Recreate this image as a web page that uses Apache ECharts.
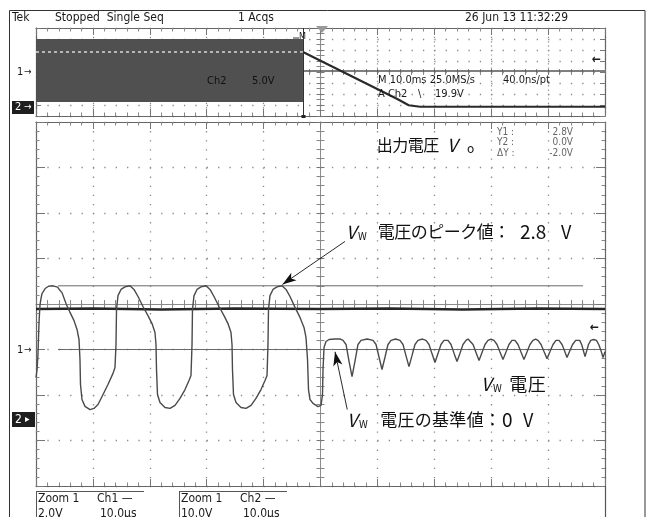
<!DOCTYPE html>
<html>
<head>
<meta charset="utf-8">
<script src="https://cdn.jsdelivr.net/npm/echarts@6/dist/echarts.min.js"></script>
<style>
  html, body { margin: 0; padding: 0; background: #fff; }
  #scope { width: 651px; height: 517px; }
</style>
</head>
<body>
<div id="scope"></div>
<script>
// ---- Zoom window (10 us/div): Vw on Ch1, [time us, volts] ----
const vwTrace = [
  [0.00,-1.23],[0.18,-0.90],[0.35,-0.20],[0.53,1.20],[0.70,1.95],[0.88,2.25],[1.05,2.45],[1.60,2.68],[2.20,2.78],[3.00,2.80],[3.80,2.74],[4.20,2.60],
  [4.57,2.50],[5.27,2.02],[5.98,1.63],[6.68,1.27],[7.21,0.88],[7.56,0.44],[7.73,-0.44],[7.82,-1.54],[8.08,-2.20],[8.61,-2.50],[9.49,-2.64],[10.19,-2.59],
  [10.90,-2.42],[11.78,-1.98],[12.65,-1.54],[13.53,-1.05],[13.88,-0.79],
  [14.06,0.22],[14.15,1.76],[14.41,2.37],[14.94,2.64],[15.64,2.75],[16.52,2.80],[17.22,2.64],[17.93,2.33],[18.80,1.89],[19.68,1.49],[20.39,1.14],[20.91,0.75],
  [21.09,0.22],[21.18,-0.88],[21.35,-1.98],[21.79,-2.33],[22.67,-2.55],[23.55,-2.59],[24.43,-2.46],[25.31,-2.15],[26.19,-1.76],[26.89,-1.36],[27.24,-1.14],
  [27.42,0.22],[27.50,1.76],[27.77,2.37],[28.30,2.64],[29.00,2.75],[29.88,2.80],[30.58,2.64],[31.28,2.33],[32.16,1.89],[33.04,1.49],[33.74,1.14],[34.27,0.75],
  [34.45,0.22],[34.53,-0.88],[34.71,-1.98],[35.15,-2.33],[36.03,-2.55],[36.91,-2.59],[37.79,-2.46],[38.66,-2.15],[39.54,-1.76],[40.25,-1.36],[40.60,-1.14],
  [40.77,0.22],[40.86,1.76],[41.12,2.37],[41.65,2.64],[42.36,2.75],[43.23,2.80],[43.94,2.64],[44.64,2.33],[45.52,1.85],[46.40,1.41],[47.10,0.97],[47.45,0.53],
  [47.72,-0.44],[47.89,-1.76],[48.15,-2.20],[48.68,-2.37],[49.56,-2.51],[50.09,-2.46],[50.35,-1.98],[50.44,-0.88],[50.62,0.09],[50.97,0.35],[51.49,0.44],
  // decaying ripple after switching stops
  [52.50,0.46],[53.50,0.46],[53.96,0.40],[54.49,0.22],[55.00,-0.50],[55.54,-1.19],[56.07,-0.50],[56.59,0.22],[57.12,0.40],
  [58.20,0.46],[59.23,0.40],[59.76,0.22],[60.28,-0.33],[60.81,-0.88],[61.34,-0.33],[61.86,0.22],[62.39,0.40],
  [63.20,0.46],[63.97,0.40],[64.50,0.22],[65.02,-0.27],[65.55,-0.75],[66.08,-0.27],[66.60,0.22],[67.13,0.40],
  [67.90,0.46],[68.54,0.40],[69.07,0.22],[69.59,-0.18],[70.12,-0.57],[70.65,-0.18],[71.17,0.22],[71.70,0.40],
  [72.05,0.46],[72.41,0.40],[72.94,0.22],[73.46,-0.16],[73.99,-0.53],[74.52,-0.16],[75.04,0.22],[75.57,0.40],
  [75.93,0.46],[76.28,0.40],[76.81,0.22],[77.33,-0.13],[77.86,-0.48],[78.39,-0.13],[78.91,0.22],[79.44,0.40],
  [79.96,0.46],[80.49,0.40],[81.02,0.22],[81.54,-0.11],[82.07,-0.44],[82.60,-0.11],[83.12,0.22],[83.65,0.40],
  [83.92,0.46],[84.18,0.40],[84.71,0.22],[85.23,-0.11],[85.76,-0.44],[86.29,-0.11],[86.81,0.22],[87.34,0.40],
  [87.80,0.46],[88.23,0.40],[88.76,0.22],[89.28,-0.09],[89.81,-0.40],[90.34,-0.09],[90.86,0.22],[91.39,0.40],
  [91.66,0.46],[91.92,0.40],[92.45,0.22],[92.90,-0.07],[93.32,-0.35],[93.80,-0.07],[94.30,0.22],[94.85,0.40],
  [95.20,0.44],[95.55,0.40],[95.90,0.22],[96.20,-0.05],[96.49,-0.31],[96.80,-0.05],[97.10,0.22],[97.50,0.40],
  [98.00,0.44],[98.50,0.40],[98.90,0.22],[99.30,-0.05],[99.65,-0.35],[100.00,-0.10]
];
// Ch2 (output voltage Vo) in the zoom window, [time us, volts]
const voTrace = [[0,24.9],[10,25.0],[22,24.8],[35,25.0],[50,24.9],[62,25.0],[75,24.8],[88,25.0],[100,24.9]];
// Horizontal cursors (Ch1 volts) and the span they are drawn over (us)
const cursorLevels = [2.8, 0.0];
const cursorSpans = [[3.87, 96.13], [3.87, 100]];
const cursorReadout = ['Y1 :', 'Y2 :', '\u0394Y :'];
const cursorValues = ['2.8V', '0.0V', '-2.0V'];

// ---- Record window (10 ms/div), [time ms, volts] ----
const burstSpan = [0, 46.92];          // switching burst, drawn as filled envelope
const burstRange = [-2.73, 3.0];
const vwRecordAfter = [[46.92, 0.09], [100, 0.09]];
const voRecordDuring = [[0, 25], [46.92, 25]];
const voRecordAfter = [[46.92, 25], [63.5, 3.6], [65.5, 0.8], [67.5, 0.1], [100, 0.1]];

// ---- Scope settings ----
const zoomTimebaseUs = 10, recordTimebaseMs = 10;
const ch1VoltsPerDiv = 2, ch2VoltsPerDiv = 10;          // zoom window
const ch1RecordVPerDiv = 1, ch2RecordVPerDiv = 5;       // record window
const ch1OffsetDiv = -1, ch2OffsetDiv = -2.6;           // zoom window ground markers from centre
const ch2RecordOffsetDiv = -3.18;                        // record window Ch2 ground from centre
const headerTexts = ['Tek', 'Stopped  Single Seq', '1 Acqs', '26 Jun 13 11:32:29'];
const recordTexts = ['Ch2', '5.0V', 'M 10.0ms 25.0MS/s', '40.0ns/pt', 'A Ch2', '\\', '19.9V'];
const footerTexts = [['Zoom 1', 'Ch1 \u2014', '2.0V', '10.0\u03bcs'], ['Zoom 1', 'Ch2 \u2014', '10.0V', '10.0\u03bcs']];

const SCOPE_FONT = "'Liberation Sans Narrow','DejaVu Sans Condensed','DejaVu Sans',sans-serif";
const JP_FONT = "'Noto Sans CJK JP','Noto Sans',sans-serif";
const GRAT = '#8a8a8a';

const chart = echarts.init(document.getElementById('scope'), null, { renderer: 'canvas' });

const MAIN = { left: 36, top: 122, width: 569, height: 364 };
const REC = { left: 36, top: 28, width: 569, height: 88 };

// graticule helpers (division units)
function gratX(grid, pos, opts) {
  return Object.assign({
    type: 'value', gridIndex: grid, position: pos, min: 0, max: 10, interval: 1,
    axisLine: { show: true, onZero: false, lineStyle: { color: '#666', width: 1.2 } },
    axisTick: { show: true, inside: true, length: 7, lineStyle: { color: '#777' } },
    minorTick: { show: true, splitNumber: 5, length: 3.5, lineStyle: { color: '#888' } },
    axisLabel: { show: false }, splitLine: { show: false }
  }, opts || {});
}
function gratY(grid, pos, divs, opts) {
  return Object.assign({
    type: 'value', gridIndex: grid, position: pos, min: 0, max: divs, interval: 1,
    axisLine: { show: true, onZero: false, lineStyle: { color: '#666', width: 1.2 } },
    axisTick: { show: true, inside: true, length: 9, lineStyle: { color: '#777' } },
    minorTick: { show: true, splitNumber: 5, length: 3.5, lineStyle: { color: '#888' } },
    axisLabel: { show: false }, splitLine: { show: false }
  }, opts || {});
}
const hidden = (grid, min, max) => ({ type: 'value', gridIndex: grid, min, max, show: false });
function centreTicks(inside, len, withLine) {
  return {
    axisTick: { show: true, inside, length: len, lineStyle: { color: '#777' } },
    minorTick: { show: true, splitNumber: 5, length: len, lineStyle: { color: '#888' } },
    axisLine: { show: withLine, onZero: false, lineStyle: { color: '#8c8c8c', width: 1 } }
  };
}

const mainDivPx = MAIN.width / 10 / 5, mainDivPy = MAIN.height / 8 / 5;
const recDivPx = REC.width / 10 / 5, recDivPy = REC.height / 8 / 5;

const xAxis = [
  hidden(1, 0, 10 * zoomTimebaseUs),                                            // 0 zoom time
  gratX(1, 'bottom', { splitLine: { show: true, lineStyle: { color: GRAT, width: 1.3, type: [1.3, mainDivPy - 1.3] } } }), // 1
  gratX(1, 'top'),                                                               // 2
  gratX(1, 'bottom', Object.assign({ offset: -MAIN.height / 2 }, centreTicks(true, 4, true))),   // 3
  gratX(1, 'bottom', Object.assign({ offset: -MAIN.height / 2 }, centreTicks(false, 4, false))), // 4
  hidden(0, 0, 10 * recordTimebaseMs),                                           // 5 record time
  gratX(0, 'bottom', { splitLine: { show: true, lineStyle: { color: GRAT, width: 1.2, type: [1.2, 2 * recDivPy - 1.2] } } }), // 6
  gratX(0, 'top'),                                                               // 7
  gratX(0, 'bottom', Object.assign({ offset: -REC.height / 2 }, centreTicks(true, 3, false))),   // 8
  gratX(0, 'bottom', Object.assign({ offset: -REC.height / 2 }, centreTicks(false, 3, false)))   // 9
];

const ch1Min = (-4 - ch1OffsetDiv) * ch1VoltsPerDiv, ch1Max = (4 - ch1OffsetDiv) * ch1VoltsPerDiv;
const ch2Min = (-4 - ch2OffsetDiv) * ch2VoltsPerDiv, ch2Max = (4 - ch2OffsetDiv) * ch2VoltsPerDiv;
const ch2RecMin = (-4 - ch2RecordOffsetDiv) * ch2RecordVPerDiv, ch2RecMax = (4 - ch2RecordOffsetDiv) * ch2RecordVPerDiv;

const yAxis = [
  hidden(1, ch1Min, ch1Max),                                                     // 0 Ch1 volts
  hidden(1, ch2Min, ch2Max),                                                     // 1 Ch2 volts
  gratY(1, 'left', 8, { splitLine: { show: true, lineStyle: { color: GRAT, width: 1.3, type: [1.3, mainDivPx - 1.3] } } }), // 2
  gratY(1, 'right', 8),                                                          // 3
  gratY(1, 'left', 8, Object.assign({ offset: -MAIN.width / 2 }, centreTicks(true, 4, true))),   // 4
  gratY(1, 'left', 8, Object.assign({ offset: -MAIN.width / 2 }, centreTicks(false, 4, false))), // 5
  hidden(0, -4 * ch1RecordVPerDiv, 4 * ch1RecordVPerDiv),                        // 6 Ch1 record
  hidden(0, ch2RecMin, ch2RecMax),                                               // 7 Ch2 record
  gratY(0, 'left', 8, {
    axisTick: { show: true, inside: true, length: 5, lineStyle: { color: '#777' } },
    minorTick: { show: false },
    splitLine: { show: true, lineStyle: { color: GRAT, width: 1.3, type: [1.3, recDivPx - 1.3] } }
  }),                                                                            // 8
  gratY(0, 'right', 8, { axisTick: { show: true, inside: true, length: 5, lineStyle: { color: '#777' } }, minorTick: { show: false } }), // 9
  gratY(0, 'left', 8, Object.assign({ offset: -REC.width / 2 }, centreTicks(true, 4, true), { minorTick: { show: true, splitNumber: 2, length: 4, lineStyle: { color: '#888' } } })),  // 10
  gratY(0, 'left', 8, Object.assign({ offset: -REC.width / 2 }, centreTicks(false, 4, false), { minorTick: { show: true, splitNumber: 2, length: 4, lineStyle: { color: '#888' } } })) // 11
];

const lineBase = { type: 'line', showSymbol: false, symbol: 'none', silent: true, animation: false };

const series = [
  // cursors
  ...cursorLevels.map((lv, i) => Object.assign({}, lineBase, {
    xAxisIndex: 0, yAxisIndex: 0, z: 3,
    data: [[cursorSpans[i][0], lv], [cursorSpans[i][1], lv]],
    lineStyle: { color: '#6a6a6a', width: 1 }
  })),
  // Ch2 output voltage
  Object.assign({}, lineBase, {
    xAxisIndex: 0, yAxisIndex: 1, z: 4, data: voTrace,
    lineStyle: { color: '#262626', width: 2.4 }
  }),
  // Ch1 Vw waveform with annotation arrows
  Object.assign({}, lineBase, {
    xAxisIndex: 0, yAxisIndex: 0, z: 5, data: vwTrace,
    lineStyle: { color: '#4a4a4a', width: 1.4 },
    markLine: {
      silent: true, animation: false, symbol: ['none', 'arrow'], symbolSize: [7, 14],
      label: { show: false },
      lineStyle: { color: '#111', width: 0.9, type: 'solid' },
      data: [
        [{ coord: [54.3, 4.75] }, { coord: [43.3, 2.86] }],
        [{ coord: [54.7, -2.64] }, { coord: [52.55, -0.10] }]
      ]
    }
  }),
  // record window: Ch1 burst envelope and idle level
  Object.assign({}, lineBase, {
    xAxisIndex: 5, yAxisIndex: 6, z: 2, data: vwRecordAfter,
    lineStyle: { color: '#555', width: 1.6 },
    markArea: {
      silent: true,
      itemStyle: { color: '#505050', opacity: 1 },
      data: [[{ coord: [burstSpan[0], burstRange[1]] }, { coord: [burstSpan[1], burstRange[0]] }]]
    }
  }),
  Object.assign({}, lineBase, {
    xAxisIndex: 5, yAxisIndex: 7, z: 6, data: voRecordDuring,
    lineStyle: { color: '#d8d8d8', width: 1.6, type: [3, 3] }
  }),
  Object.assign({}, lineBase, {
    xAxisIndex: 5, yAxisIndex: 7, z: 6, data: voRecordAfter,
    lineStyle: { color: '#2a2a2a', width: 2.2 }
  })
];

// text helpers
function t(x, y, s, size, extra) {
  return {
    type: 'text', x, y, silent: true, z: 50,
    style: Object.assign({ text: s, font: `${size || 12}px ${SCOPE_FONT}`, fill: '#1a1a1a', align: 'left', verticalAlign: 'middle' }, extra || {})
  };
}
function jp(x, y, s, size, extra) {
  return t(x, y, s, size || 17, Object.assign({ font: `${size || 17}px ${JP_FONT}`, fill: '#111' }, extra || {}));
}
// Japanese text set on a fixed full-width pitch
function jpPitch(x, y, s, size, pitch) {
  return Array.from(s).map((ch, i) => jp(x + i * pitch + pitch / 2, y, ch, size, { align: 'center' }));
}
function ln(x1, y1, x2, y2, color, w) {
  return { type: 'line', silent: true, z: 40, shape: { x1, y1, x2, y2 }, style: { stroke: color || '#333', lineWidth: w || 1 } };
}
const italicV = (x, y) => jp(x, y, 'V', 18, { font: `italic 18px ${JP_FONT}` });
const subW = (x, y) => jp(x, y + 4, 'W', 10);

const graphic = [
  // bezel
  { type: 'rect', silent: true, z: 40, shape: { x: 9.5, y: 10.5, width: 635.5, height: 520 }, style: { fill: 'none', stroke: '#333', lineWidth: 1 } },
  ln(605.5, 486, 605.5, 517, '#555', 1.2),
  // header
  t(12, 18, headerTexts[0], 12), t(55, 18, headerTexts[1], 12), t(238, 18, headerTexts[2], 12), t(465, 18, headerTexts[3], 12),
  // record window annotations
  t(207, 81, recordTexts[0], 11, { fill: '#111' }), t(252, 81, recordTexts[1], 11, { fill: '#111' }),
  t(378, 80, recordTexts[2], 11), t(503, 80, recordTexts[3], 11),
  t(378, 94, recordTexts[4], 11), t(418, 94, recordTexts[5], 11), t(435, 94, recordTexts[6], 11),
  // zoom position marker and trigger position
  ln(303.5, 28, 303.5, 117, '#333', 1),
  { type: 'rect', silent: true, z: 41, shape: { x: 301.5, y: 115, width: 4, height: 3 }, style: { fill: '#222' } },
  ln(293, 38, 299, 38, '#333', 1), t(299, 37, 'M', 9, { fill: '#222' }),
  { type: 'polygon', silent: true, z: 41, shape: { points: [[316, 26], [328, 26], [322, 33]] }, style: { fill: '#999' } },
  // channel ground markers
  t(17, 72, '1', 11), t(24, 72, '\u2192', 10),
  t(17, 350, '1', 11), t(24, 350, '\u2192', 10),
  { type: 'rect', silent: true, z: 41, shape: { x: 12, y: 101, width: 22, height: 13 }, style: { fill: '#1e1e1e' } },
  t(15, 107.5, '2', 11, { fill: '#fff' }), t(24, 107.5, '\u2192', 10, { fill: '#fff' }),
  { type: 'rect', silent: true, z: 41, shape: { x: 12, y: 412, width: 23, height: 15 }, style: { fill: '#1e1e1e' } },
  t(15, 419.5, '2', 12, { fill: '#fff' }), t(25, 419.5, '\u25b8', 10, { fill: '#fff' }),
  // trigger level arrows
  t(592, 60, '\u2190', 12, { font: `bold 12px ${SCOPE_FONT}` }),
  t(590, 328, '\u2190', 12, { font: `bold 12px ${SCOPE_FONT}` }),
  // cursor readout
  ...cursorReadout.map((s, i) => t(497, 132 + i * 10.5, s, 10, { fill: '#666' })),
  ...cursorValues.map((s, i) => t(573, 132 + i * 10.5, s, 10, { fill: '#666', align: 'right' })),
  // footer boxes
  ln(36, 491.5, 144, 491.5, '#555', 1), ln(36.5, 491, 36.5, 517, '#555', 1),
  ln(179, 491.5, 287, 491.5, '#555', 1), ln(179.5, 491, 179.5, 517, '#555', 1),
  t(38, 499, footerTexts[0][0], 12), t(97, 499, footerTexts[0][1], 12), t(38, 514, footerTexts[0][2], 12), t(100, 514, footerTexts[0][3], 12),
  t(181, 499, footerTexts[1][0], 12), t(240, 499, footerTexts[1][1], 12), t(181, 514, footerTexts[1][2], 12), t(243, 514, footerTexts[1][3], 12),
  // explanatory labels
  ...jpPitch(377, 145, '出力電圧', 16, 15.5),
  italicV(447, 145), jp(467, 148, 'o', 12),
  italicV(346, 232), subW(358, 232), ...jpPitch(378, 232, '電圧のピーク値：', 17, 16.5),
  jp(520, 232, '2.8', 19), jp(561, 232, 'V', 18),
  italicV(481, 384), subW(493, 384), ...jpPitch(509, 384, '電圧', 18, 18.5),
  italicV(347, 420), subW(359, 420), ...jpPitch(380, 420, '電圧の基準値：', 17, 17.3),
  jp(502, 420, '0', 19), jp(523, 420, 'V', 18)
];

chart.setOption({
  backgroundColor: '#ffffff',
  animation: false,
  grid: [
    Object.assign({ show: false }, REC),
    Object.assign({ show: false }, MAIN)
  ],
  xAxis, yAxis, series, graphic
});
</script>
